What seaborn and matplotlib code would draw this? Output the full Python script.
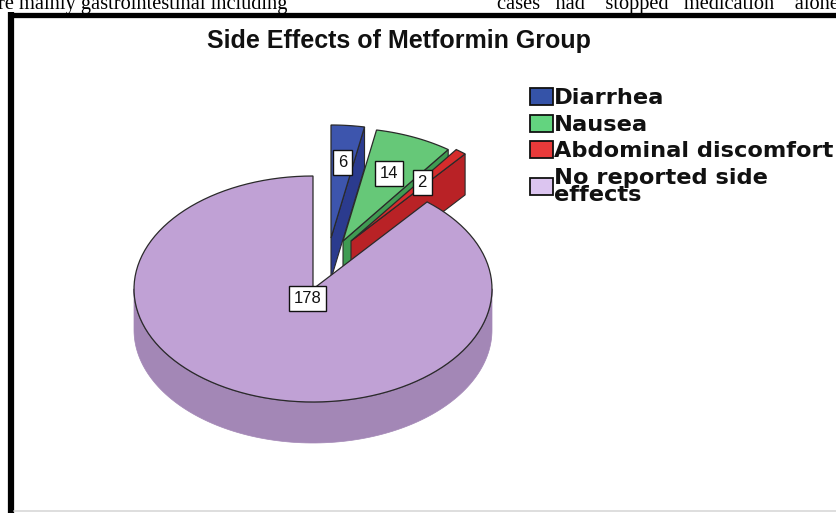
import numpy as np
import pandas as pd
import matplotlib
matplotlib.use("Agg")
import matplotlib.pyplot as plt
from matplotlib.patches import Polygon, Patch
import seaborn as sns

# ---- data -------------------------------------------------------------
categories = ["Diarrhea", "Nausea", "Abdominal discomfort", "No reported side\neffects"]
counts = [6, 14, 2, 178]
title = "Side Effects of Metformin Group"
page_text_left = "re mainly gastrointestinal including"
page_text_right = "cases   had    stopped   medication    alone"

# ---- style ------------------------------------------------------------
top_colors = ["#3d55ad", "#66c878", "#d62c2c", "#c0a1d5"]
side_colors = ["#2b3b8e", "#3f9b52", "#b92226", "#a387b6"]
legend_colors = ["#3553a8", "#63d47f", "#e83a3a", "#dcc5f0"]
explode = [(18, -51), (30, -48), (38, -48), (0, 0)]   # pixel shift of each slice
label_frac = [0.67, 0.65, 0.65, 0.09]                 # label position along slice radius

sns.set_theme(style="white")
plt.rcParams["font.family"] = ["DejaVu Sans"]

W, H = 837, 513
fig = plt.figure(figsize=(W / 100, H / 100), dpi=100)
ax = fig.add_axes([0, 0, 1, 1])
ax.set_xlim(0, W)
ax.set_ylim(H, 0)
ax.axis("off")

# pie geometry (pixel units, y grows downward)
cx, cy, rx, ry, depth = 313, 289, 179, 113, 41

df = pd.DataFrame({"category": categories, "count": counts})
df["sweep"] = df["count"] / df["count"].sum() * 360.0
df["start"] = 90.0 - df["sweep"].cumsum().shift(fill_value=0)
df["end"] = df["start"] - df["sweep"]
df["mid"] = (df["start"] + df["end"]) / 2
df["tx"] = [cx + e[0] for e in explode]
df["ty"] = [cy + e[1] for e in explode]


def rim(x0, y0, t):
    t = np.radians(t)
    return x0 + rx * np.cos(t), y0 - ry * np.sin(t)


def arc(x0, y0, a, b, n=120):
    ts = np.linspace(a, b, n)
    xs, ys = rim(x0, y0, ts)
    return np.column_stack([xs, ys])


def front_arcs(lo, hi):
    out = []
    for k in range(-2, 3):
        a, b = max(lo, 180 + 360 * k), min(hi, 360 + 360 * k)
        if b > a:
            out.append((a, b))
    return out


edge_dark = "#2a2a2a"
# paint from the back of the scene to the front
df["depth_key"] = df["ty"] - ry * np.sin(np.radians(df["mid"])) * 0.6
for i in df.sort_values("depth_key").index:
    r = df.loc[i]
    tx, ty = r["tx"], r["ty"]
    top, side = top_colors[i], side_colors[i]
    # flat radial faces that turn toward the viewer
    for ang, visible in ((r["start"], np.cos(np.radians(r["start"])) < -1e-6),
                         (r["end"], np.cos(np.radians(r["end"])) > 1e-6)):
        if visible:
            px, py = rim(tx, ty, ang)
            face = [(tx, ty), (px, py), (px, py + depth), (tx, ty + depth)]
            ax.add_patch(Polygon(face, closed=True, fc=side, ec=edge_dark, lw=0.8, zorder=2))
    # curved outer wall on the near half of the ellipse
    for a, b in front_arcs(r["end"], r["start"]):
        upper = arc(tx, ty, a, b)
        lower = upper[::-1] + np.array([0, depth])
        ax.add_patch(Polygon(np.vstack([upper, lower]), closed=True, fc=side,
                             ec=side, lw=0.5, zorder=2))
        ax.plot(upper[:, 0], upper[:, 1], color="#6d5a7c", lw=0.8, zorder=3)
    # top face
    pts = np.vstack([[tx, ty], arc(tx, ty, r["start"], r["end"])])
    ax.add_patch(Polygon(pts, closed=True, fc=top, ec=edge_dark, lw=0.9, zorder=3))

# value labels
for i, r in df.iterrows():
    lx, ly = rim(r["tx"], r["ty"], r["mid"])
    f = label_frac[i]
    x = r["tx"] + f * (lx - r["tx"])
    y = r["ty"] + f * (ly - r["ty"])
    ax.text(x, y, f"{r['count']}", ha="center", va="center", fontsize=12,
            family="Liberation Sans", color="#111111", zorder=6,
            bbox=dict(boxstyle="square,pad=0.3", fc="white", ec="#111111", lw=1.0))

# title
ax.text(399, 41, title, ha="center", va="center", fontsize=18,
        family="Liberation Sans", weight="bold", color="#111111")

# legend
handles = [Patch(fc=c, ec="#111111", lw=1.3) for c in legend_colors]
leg = ax.legend(handles, categories, loc="upper left",
                bbox_to_anchor=(530 / W, 1 - 88 / H), frameon=False,
                prop=dict(family="DejaVu Sans", weight="bold", size=16.2),
                handlelength=1.02, handleheight=0.8, handletextpad=0.05,
                labelspacing=0.27, borderaxespad=0, borderpad=0)
for t in leg.get_texts():
    t.set_linespacing(0.82)
    t.set_color("#111111")

# surrounding page: figure frame and cut text lines
ax.plot([11, 11], [12, H], color="black", lw=4.5, solid_capstyle="butt", zorder=8)
ax.plot([8, W], [14.5, 14.5], color="black", lw=3.8, solid_capstyle="butt", zorder=8)
ax.plot([14, W], [510.5, 510.5], color="#d8d8d8", lw=1.2, zorder=8)
ax.text(-2, 9, page_text_left, ha="left", va="baseline", fontsize=14.7,
        family="Liberation Serif", color="black", clip_on=False)
ax.text(497, 9, page_text_right, ha="left", va="baseline", fontsize=14.7,
        family="Liberation Serif", color="black", clip_on=False)

fig.savefig("out.png", dpi=100, facecolor="white")
